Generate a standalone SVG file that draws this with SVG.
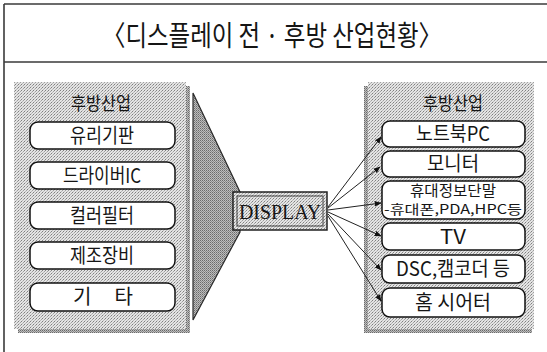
<svg xmlns="http://www.w3.org/2000/svg" width="547" height="352" viewBox="0 0 547 352">
<defs>
<pattern id="lt" width="3" height="3" patternUnits="userSpaceOnUse"><rect width="3" height="3" fill="#e4e4e4"/><rect width="1" height="1" fill="#808080"/><rect x="2" y="1" width="1" height="1" fill="#a0a0a0"/><rect x="1" y="2" width="1" height="1" fill="#b8b8b8"/></pattern>
<pattern id="dk" width="2" height="2" patternUnits="userSpaceOnUse"><rect width="2" height="2" fill="#bdbdbd"/><rect width="1" height="1" fill="#6a6a6a"/><rect x="1" y="1" width="1" height="1" fill="#8a8a8a"/></pattern>
<marker id="ah" viewBox="0 0 10 10" refX="9" refY="5" markerWidth="7" markerHeight="7" markerUnits="userSpaceOnUse" orient="auto"><path d="M0,1 L10,5 L0,9 Z" fill="#111"/></marker>
</defs>
<style>
.frame{stroke:#3a3a3a;stroke-width:1.6;fill:none}
.box{fill:#fff;stroke:#111;stroke-width:1.5}
.k{font-family:"Noto Sans CJK KR","Liberation Sans",sans-serif;fill:#151515;text-anchor:middle}
.lbl{font-size:20px}
.hd{font-size:18px}
.con line{stroke:#222;stroke-width:1;marker-end:url(#ah)}
</style>
<rect width="547" height="352" fill="#fff"/>
<g id="frame">
<line class="frame" x1="4" y1="4" x2="547" y2="4"/>
<line class="frame" x1="4" y1="62" x2="547" y2="62"/>
<line class="frame" x1="4" y1="4" x2="4" y2="352"/>
<text class="k" x="272" y="46" font-size="28" textLength="340" lengthAdjust="spacingAndGlyphs">〈디스플레이 전 · 후방 산업현황〉</text>
</g>
<g id="left-panel">
<rect x="18" y="86" width="172" height="247" fill="url(#dk)"/>
<rect x="14" y="82" width="172" height="247" fill="url(#lt)"/>
<text class="k hd" x="101" y="110" textLength="60" lengthAdjust="spacingAndGlyphs">후방산업</text>
</g>
<g id="l1"><rect class="box" x="30" y="122" width="145" height="27" rx="8"/><text class="k lbl" x="102" y="143" textLength="64" lengthAdjust="spacingAndGlyphs">유리기판</text></g>
<g id="l2"><rect class="box" x="30" y="162" width="145" height="27" rx="8"/><text class="k lbl" x="102" y="183" textLength="78" lengthAdjust="spacingAndGlyphs">드라이버IC</text></g>
<g id="l3"><rect class="box" x="30" y="202" width="145" height="27" rx="8"/><text class="k lbl" x="102" y="223" textLength="64" lengthAdjust="spacingAndGlyphs">컬러필터</text></g>
<g id="l4"><rect class="box" x="30" y="242" width="145" height="27" rx="8"/><text class="k lbl" x="102" y="263" textLength="64" lengthAdjust="spacingAndGlyphs">제조장비</text></g>
<g id="l5"><rect class="box" x="30" y="283" width="145" height="28" rx="8"/><text class="k lbl" x="103" y="304" textLength="60" lengthAdjust="spacing">기 타</text></g>
<g id="funnel">
<polygon points="193,93 240,192 240,232 193,320" fill="url(#dk)" stroke="#2a2a2a" stroke-width="1.2"/>
</g>
<g id="display">
<rect x="233" y="192" width="94" height="38" fill="url(#lt)" stroke="#222" stroke-width="1.5"/>
<rect x="237" y="196" width="86" height="30" fill="none" stroke="#444" stroke-width="1"/>
<text x="280" y="219" font-family="Liberation Serif,serif" font-size="22" fill="#151515" text-anchor="middle" textLength="82" lengthAdjust="spacingAndGlyphs">DISPLAY</text>
</g>
<g id="right-panel">
<rect x="364" y="86" width="168" height="247" fill="url(#dk)"/>
<rect x="368" y="82" width="166" height="247" fill="url(#lt)"/>
<text class="k hd" x="453" y="110" textLength="60" lengthAdjust="spacingAndGlyphs">후방산업</text>
</g>
<g id="r1"><rect class="box" x="382" y="121" width="143" height="26" rx="8"/><text class="k lbl" x="453" y="141" textLength="74" lengthAdjust="spacingAndGlyphs">노트북PC</text></g>
<g id="r2"><rect class="box" x="382" y="151" width="143" height="26" rx="8"/><text class="k lbl" x="453" y="171" textLength="52" lengthAdjust="spacingAndGlyphs">모니터</text></g>
<g id="r3"><rect class="box" x="382" y="181" width="143" height="38" rx="8"/><text class="k" x="453" y="196" font-size="15" textLength="86" lengthAdjust="spacingAndGlyphs">휴대정보단말</text><text class="k" x="453" y="214" font-size="13" textLength="138" lengthAdjust="spacingAndGlyphs">-휴대폰,PDA,HPC등</text></g>
<g id="r4"><rect class="box" x="382" y="223" width="143" height="27" rx="8"/><text class="k lbl" x="453" y="244" textLength="26" lengthAdjust="spacingAndGlyphs">TV</text></g>
<g id="r5"><rect class="box" x="382" y="255" width="143" height="28" rx="8"/><text class="k lbl" x="453" y="276" textLength="114" lengthAdjust="spacingAndGlyphs">DSC,캠코더 등</text></g>
<g id="r6"><rect class="box" x="382" y="288" width="143" height="29" rx="8"/><text class="k lbl" x="453" y="310" textLength="76" lengthAdjust="spacingAndGlyphs">홈 시어터</text></g>
<g id="connectors" class="con">
<line x1="328" y1="207" x2="381" y2="137"/>
<line x1="328" y1="208" x2="380" y2="167"/>
<line x1="328" y1="210" x2="381" y2="203"/>
<line x1="328" y1="212" x2="381" y2="236"/>
<line x1="328" y1="214" x2="381" y2="270"/>
<line x1="328" y1="216" x2="381" y2="301"/>
</g>
</svg>
